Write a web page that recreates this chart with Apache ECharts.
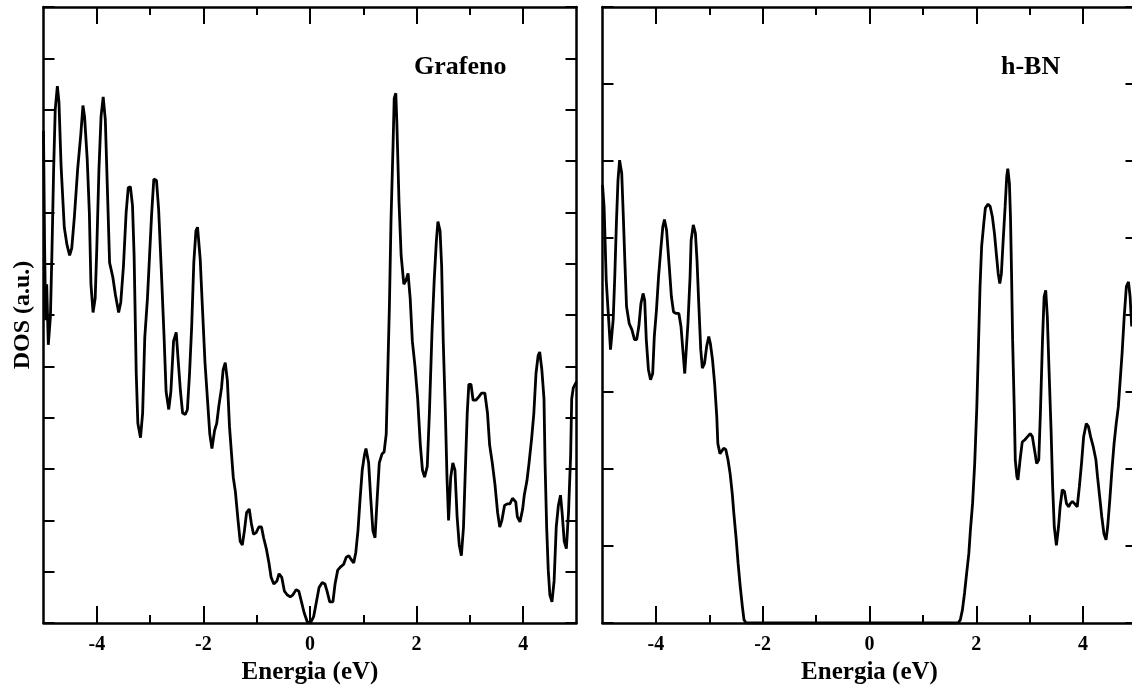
<!DOCTYPE html>
<html>
<head>
<meta charset="utf-8">
<script src="https://cdn.jsdelivr.net/npm/echarts@6/dist/echarts.min.js"></script>
<style>
  html, body { margin: 0; padding: 0; background: #fff; }
  #chart { width: 1132px; height: 686px; }
</style>
</head>
<body>
<div id="chart"></div>
<script>
// ---------------- data ----------------
const majorTicks = [-4, -2, 0, 2, 4];
const minorTicks = [-3, -1, 1, 3];
const panelTitles = ['Grafeno', 'h-BN'];
const xAxisTitle = 'Energia (eV)';
const yAxisTitle = 'DOS (a.u.)';

const grafenoE = [-5.00,-4.98,-4.96,-4.94,-4.91,-4.87,-4.84,-4.81,-4.78,-4.74,-4.71,-4.67,-4.61,-4.56,-4.51,-4.47,-4.42,-4.36,-4.30,-4.26,-4.23,-4.18,-4.14,-4.11,-4.07,-4.03,-4.00,-3.96,-3.92,-3.88,-3.84,-3.80,-3.76,-3.70,-3.65,-3.59,-3.55,-3.50,-3.45,-3.41,-3.37,-3.33,-3.30,-3.26,-3.23,-3.18,-3.14,-3.10,-3.05,-3.01,-2.97,-2.93,-2.88,-2.84,-2.79,-2.74,-2.70,-2.65,-2.61,-2.56,-2.51,-2.47,-2.43,-2.39,-2.34,-2.30,-2.26,-2.22,-2.18,-2.14,-2.11,-2.06,-2.02,-1.97,-1.92,-1.88,-1.84,-1.79,-1.75,-1.71,-1.66,-1.63,-1.59,-1.55,-1.51,-1.47,-1.44,-1.40,-1.35,-1.31,-1.27,-1.23,-1.19,-1.14,-1.10,-1.06,-1.01,-0.96,-0.91,-0.87,-0.82,-0.77,-0.73,-0.68,-0.62,-0.58,-0.53,-0.48,-0.43,-0.37,-0.32,-0.26,-0.21,-0.16,-0.11,-0.05,0.01,0.07,0.12,0.17,0.23,0.28,0.32,0.37,0.43,0.47,0.52,0.58,0.63,0.68,0.73,0.77,0.82,0.86,0.90,0.94,0.98,1.02,1.05,1.10,1.14,1.18,1.22,1.26,1.30,1.35,1.39,1.43,1.45,1.49,1.52,1.56,1.58,1.61,1.63,1.67,1.71,1.76,1.80,1.84,1.88,1.92,1.97,2.02,2.07,2.11,2.15,2.20,2.24,2.29,2.33,2.37,2.40,2.44,2.47,2.50,2.54,2.57,2.60,2.64,2.68,2.72,2.76,2.80,2.84,2.88,2.91,2.95,2.98,3.02,3.06,3.11,3.17,3.22,3.28,3.33,3.37,3.42,3.47,3.52,3.56,3.60,3.65,3.70,3.75,3.80,3.86,3.89,3.94,3.99,4.02,4.07,4.11,4.16,4.20,4.24,4.28,4.31,4.35,4.39,4.41,4.44,4.47,4.50,4.54,4.58,4.62,4.66,4.70,4.73,4.77,4.81,4.85,4.89,4.91,4.94,5.00];
const grafenoDOS = [9.59,7.40,5.90,6.60,5.42,5.97,7.30,8.83,10.00,10.46,10.15,8.90,7.71,7.37,7.16,7.30,7.92,8.83,9.52,10.08,9.87,9.04,8.00,6.60,6.05,6.33,7.30,8.83,9.87,10.25,9.80,8.41,7.02,6.74,6.39,6.05,6.25,6.95,7.99,8.48,8.50,8.13,7.16,4.86,3.89,3.61,4.09,5.56,6.32,7.16,7.99,8.65,8.62,8.06,6.88,5.63,4.51,4.16,4.51,5.49,5.66,5.07,4.51,4.09,4.06,4.16,4.86,5.77,7.02,7.64,7.71,7.09,6.18,5.07,4.30,3.68,3.40,3.75,3.89,4.23,4.58,4.93,5.07,4.72,3.82,3.26,2.84,2.56,2.00,1.59,1.52,1.80,2.15,2.22,1.94,1.73,1.76,1.87,1.87,1.66,1.45,1.17,0.89,0.76,0.82,0.96,0.89,0.62,0.55,0.51,0.55,0.65,0.62,0.41,0.20,0.02,0.00,0.13,0.41,0.69,0.79,0.76,0.62,0.41,0.41,0.76,1.03,1.10,1.14,1.28,1.31,1.24,1.17,1.38,1.80,2.42,2.98,3.26,3.40,3.12,2.42,1.80,1.66,2.42,3.12,3.29,3.33,3.68,4.51,6.18,7.85,9.38,10.22,10.32,9.73,8.20,7.16,6.60,6.67,6.81,6.32,5.49,5.00,4.37,3.47,2.98,2.84,3.05,4.09,5.70,6.67,7.43,7.82,7.64,6.95,5.49,4.09,2.84,2.00,2.84,3.12,2.98,2.07,1.52,1.31,1.87,2.84,4.09,4.65,4.65,4.34,4.34,4.41,4.48,4.48,4.09,3.47,3.12,2.70,2.15,1.87,2.00,2.29,2.32,2.32,2.43,2.36,2.07,1.97,2.22,2.49,2.77,3.12,3.61,4.09,4.86,5.21,5.28,4.93,4.37,3.12,1.87,1.03,0.55,0.41,0.82,1.87,2.29,2.49,2.15,1.59,1.45,2.15,3.26,4.37,4.58,4.70];

const hbnE = [-5.00,-4.97,-4.93,-4.89,-4.85,-4.80,-4.77,-4.74,-4.71,-4.68,-4.64,-4.61,-4.58,-4.55,-4.50,-4.45,-4.40,-4.36,-4.32,-4.28,-4.24,-4.21,-4.18,-4.14,-4.10,-4.06,-4.03,-3.99,-3.95,-3.91,-3.87,-3.84,-3.80,-3.75,-3.71,-3.67,-3.62,-3.57,-3.53,-3.49,-3.46,-3.43,-3.40,-3.36,-3.34,-3.30,-3.26,-3.23,-3.20,-3.16,-3.13,-3.09,-3.05,-3.01,-2.98,-2.94,-2.90,-2.86,-2.84,-2.80,-2.77,-2.73,-2.69,-2.65,-2.61,-2.57,-2.54,-2.50,-2.46,-2.42,-2.38,-2.35,-2.31,1.66,1.70,1.74,1.78,1.82,1.86,1.89,1.93,1.97,2.01,2.04,2.07,2.10,2.14,2.17,2.22,2.26,2.30,2.34,2.38,2.41,2.44,2.47,2.50,2.54,2.57,2.59,2.62,2.64,2.66,2.68,2.71,2.73,2.76,2.78,2.82,2.86,2.91,2.96,3.01,3.05,3.09,3.13,3.17,3.20,3.24,3.27,3.30,3.33,3.36,3.40,3.43,3.46,3.50,3.54,3.57,3.61,3.65,3.69,3.73,3.76,3.80,3.84,3.89,3.93,3.97,4.01,4.06,4.10,4.14,4.19,4.24,4.27,4.31,4.35,4.39,4.43,4.46,4.50,4.54,4.58,4.62,4.66,4.69,4.73,4.77,4.81,4.85,4.88,4.91];
const hbnDOS = [5.69,5.40,4.45,4.00,3.55,3.94,4.50,5.19,5.75,6.01,5.84,5.28,4.67,4.11,3.89,3.81,3.68,3.68,3.85,4.15,4.28,4.19,3.68,3.29,3.16,3.24,3.72,4.06,4.50,4.84,5.15,5.24,5.10,4.63,4.24,4.04,4.02,4.02,3.85,3.50,3.24,3.24,3.89,4.50,4.97,5.17,5.06,4.71,4.19,3.55,3.31,3.37,3.59,3.72,3.63,3.42,3.11,2.68,2.33,2.20,2.20,2.27,2.25,2.12,1.94,1.68,1.42,1.12,0.77,0.47,0.21,0.04,0.00,0.00,0.04,0.17,0.39,0.65,0.90,1.21,1.55,2.07,2.81,3.59,4.37,4.89,5.19,5.39,5.44,5.41,5.28,5.06,4.76,4.54,4.41,4.54,4.93,5.41,5.80,5.90,5.71,5.28,4.54,3.68,2.81,2.12,1.90,1.86,2.12,2.35,2.38,2.42,2.46,2.42,2.25,2.07,2.12,2.72,3.68,4.24,4.32,3.98,3.33,2.51,1.77,1.25,1.01,1.25,1.51,1.73,1.71,1.55,1.51,1.55,1.58,1.55,1.51,1.77,2.07,2.42,2.59,2.55,2.42,2.29,2.12,1.90,1.64,1.38,1.16,1.08,1.25,1.60,1.99,2.33,2.59,2.81,3.11,3.50,3.98,4.37,4.43,4.24,3.85];

const yMax = [12, 8];

// ---------------- chart ----------------
const FONT = 'Liberation Serif';
const chart = echarts.init(document.getElementById('chart'), null, { renderer: 'canvas' });

const grids = [
  { left: 43.5, top: 7, width: 533, height: 616, containLabel: false, outerBoundsMode: 'none' },
  { left: 602.5, top: 7, width: 534, height: 616, containLabel: false, outerBoundsMode: 'none' }
];

const lineW = 2.5;
const xAxes = [];
const yAxes = [];
grids.forEach((g, gi) => {
  // bottom major (with labels, line, name)
  xAxes.push({
    gridIndex: gi, type: 'value', position: 'bottom', min: -5, max: 5,
    axisLine: { show: true, onZero: false, lineStyle: { color: '#000', width: lineW } },
    axisTick: { show: true, inside: true, length: 17, customValues: majorTicks, lineStyle: { color: '#000', width: 2 } },
    axisLabel: { show: true, customValues: majorTicks, margin: 12, color: '#000', fontFamily: FONT, fontWeight: 'bold', fontSize: 20,
      formatter: v => String(v) },
    splitLine: { show: false },
    name: xAxisTitle, nameLocation: 'middle', nameGap: 29,
    nameTextStyle: { color: '#000', fontFamily: FONT, fontWeight: 'bold', fontSize: 25 }
  });
  // bottom minor
  xAxes.push({
    gridIndex: gi, type: 'value', position: 'bottom', min: -5, max: 5,
    axisLine: { show: false, onZero: false },
    axisTick: { show: true, inside: true, length: 8, customValues: minorTicks, lineStyle: { color: '#000', width: 2 } },
    axisLabel: { show: false }, splitLine: { show: false }
  });
  // top major
  xAxes.push({
    gridIndex: gi, type: 'value', position: 'top', min: -5, max: 5,
    axisLine: { show: true, onZero: false, lineStyle: { color: '#000', width: lineW } },
    axisTick: { show: true, inside: true, length: 17, customValues: majorTicks, lineStyle: { color: '#000', width: 2 } },
    axisLabel: { show: false }, splitLine: { show: false }
  });
  // top minor
  xAxes.push({
    gridIndex: gi, type: 'value', position: 'top', min: -5, max: 5,
    axisLine: { show: false, onZero: false },
    axisTick: { show: true, inside: true, length: 8, customValues: minorTicks, lineStyle: { color: '#000', width: 2 } },
    axisLabel: { show: false }, splitLine: { show: false }
  });
  // left y
  yAxes.push({
    gridIndex: gi, type: 'value', position: 'left', min: 0, max: yMax[gi], interval: 1,
    axisLine: { show: true, onZero: false, lineStyle: { color: '#000', width: lineW } },
    axisTick: { show: true, inside: true, length: 11, lineStyle: { color: '#000', width: 2 } },
    axisLabel: { show: false }, splitLine: { show: false },
    name: gi === 0 ? yAxisTitle : '', nameLocation: 'middle', nameGap: 9,
    nameTextStyle: { color: '#000', fontFamily: FONT, fontWeight: 'bold', fontSize: 24 }
  });
  // right y
  yAxes.push({
    gridIndex: gi, type: 'value', position: 'right', min: 0, max: yMax[gi], interval: 1,
    axisLine: { show: true, onZero: false, lineStyle: { color: '#000', width: lineW } },
    axisTick: { show: true, inside: true, length: 11, lineStyle: { color: '#000', width: 2 } },
    axisLabel: { show: false }, splitLine: { show: false }
  });
});

const toPairs = (xs, ys) => xs.map((x, i) => [x, ys[i]]);

const titleStyle = { color: '#000', fontFamily: FONT, fontWeight: 'bold', fontSize: 26 };

chart.setOption({
  animation: false,
  backgroundColor: '#fff',
  title: [
    { text: panelTitles[0], left: 414, top: 54, padding: 0, textStyle: titleStyle },
    { text: panelTitles[1], left: 1001, top: 54, padding: 0, textStyle: titleStyle }
  ],
  grid: grids,
  xAxis: xAxes,
  yAxis: yAxes,
  series: [
    { type: 'line', xAxisIndex: 0, yAxisIndex: 0, data: toPairs(grafenoE, grafenoDOS),
      showSymbol: false, symbol: 'none', lineStyle: { color: '#000', width: 2.8 }, clip: true },
    { type: 'line', xAxisIndex: 4, yAxisIndex: 2, data: toPairs(hbnE, hbnDOS),
      showSymbol: false, symbol: 'none', lineStyle: { color: '#000', width: 2.8 }, clip: true }
  ]
});
</script>
</body>
</html>
